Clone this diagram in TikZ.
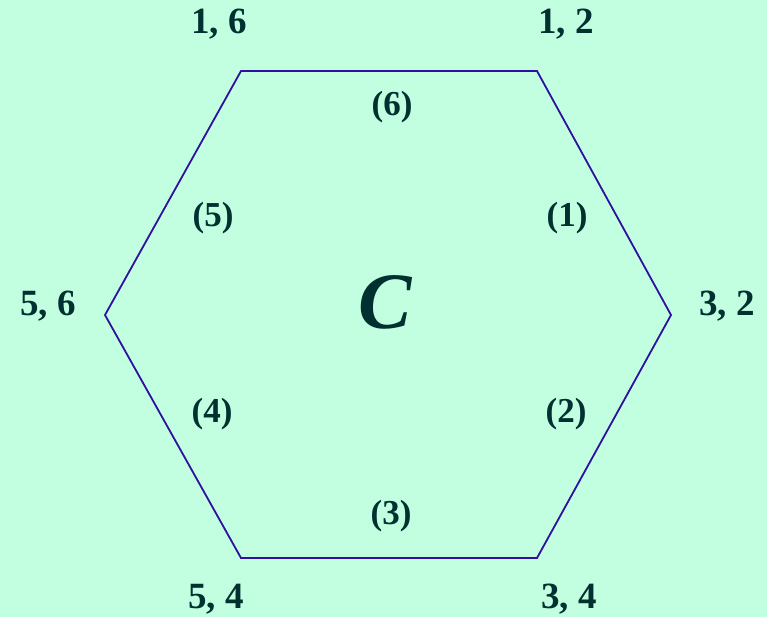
\documentclass[tikz,border=0pt]{standalone}
\usepackage{fontspec}
\setmainfont{Liberation Serif}
\definecolor{bg}{RGB}{194,255,224}
\definecolor{txt}{RGB}{0,48,48}
\definecolor{edge}{RGB}{48,16,160}
\begin{document}
\begin{tikzpicture}[x=1pt,y=-1pt,
  corner/.style={text=txt,font=\fontsize{37}{40}\selectfont\bfseries,inner sep=0pt},
  side/.style={text=txt,font=\fontsize{35}{38}\selectfont\bfseries,inner sep=0pt},
  hexline/.style={draw=edge,line width=1.8pt,line join=miter}]
\fill[bg] (0,0) rectangle (767,617);
\useasboundingbox (0,0) rectangle (767,617);
\coordinate (v1) at (241,71);
\coordinate (v2) at (537,71);
\coordinate (v3) at (671,315);
\coordinate (v4) at (537,558);
\coordinate (v5) at (241,558);
\coordinate (v6) at (105,315);
\draw[hexline] (v1) -- (v2) -- (v3) -- (v4) -- (v5) -- (v6) -- cycle;
\node[corner] (c16) at (219,24) {1, 6};
\node[corner] (c12) at (566,24) {1, 2};
\node[corner] (c56) at (48,306) {5, 6};
\node[corner] (c32) at (727,306) {3, 2};
\node[corner] (c54) at (216,599) {5, 4};
\node[corner] (c34) at (569,599) {3, 4};
\node[side] (s6) at (392,107) {(6)};
\node[side] (s5) at (213,218) {(5)};
\node[side] (s1) at (567,218) {(1)};
\node[side] (s4) at (212,414) {(4)};
\node[side] (s2) at (566,414) {(2)};
\node[side] (s3) at (391,516) {(3)};
\node[text=txt,font=\fontsize{80}{84}\selectfont\bfseries\itshape,inner sep=0pt] (C) at (385,302) {C};
\end{tikzpicture}
\end{document}
